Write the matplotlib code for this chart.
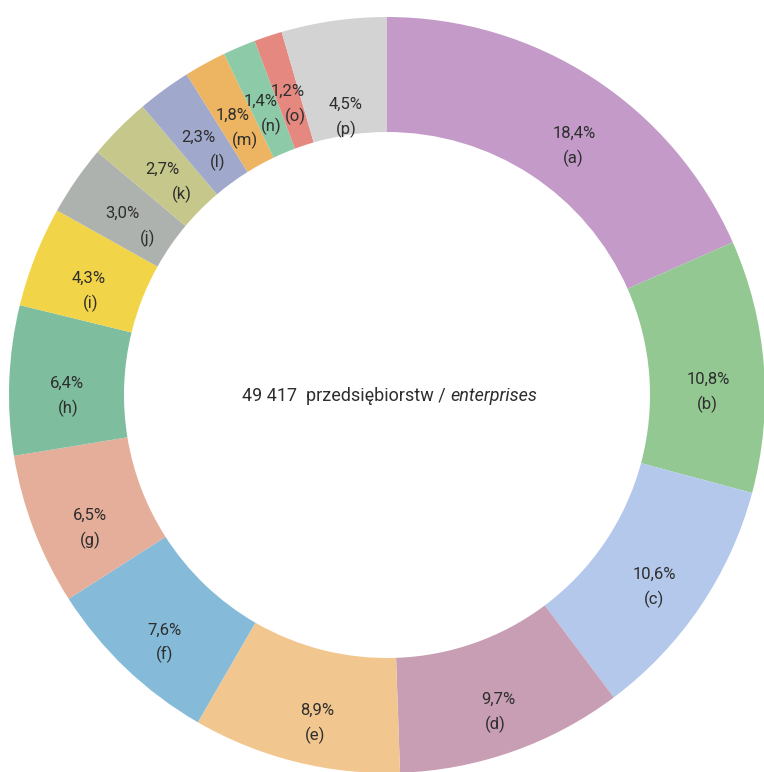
import matplotlib
matplotlib.use("Agg")
import matplotlib.pyplot as plt
import numpy as np

labels = ["a", "b", "c", "d", "e", "f", "g", "h", "i", "j", "k", "l", "m", "n", "o", "p"]
values = [18.4, 10.8, 10.6, 9.7, 8.9, 7.6, 6.5, 6.4, 4.3, 3.0, 2.7, 2.3, 1.8, 1.4, 1.2, 4.5]
colors = ["#C49BC8", "#93C893", "#B3C8EA", "#C79EB3", "#F2C78F", "#85BBD8", "#E5AE9A",
          "#7EBD9E", "#F2D448", "#AEB2AE", "#C6C78A", "#A0A8CC", "#EDB462", "#8DCBA8",
          "#E48880", "#D3D3D3"]
center_number = "49 417"
center_pl = "przedsiębiorstw"
center_en = "enterprises"

# label nudges in pixels (dx, dy screen-down) and horizontal shift of 2nd line
nudges = [(12, 6), (2, 8), (2, 0), (3, 2), (7, 4), (-1, 3), (2, 5), (0, 0), (0, 0),
          (11, 0), (12, 0), (10, 0), (6, 0), (4, 0), (5, 0), (4, 26)]
line2_shift = [-1, -1, -1, -3, -2, 0, 0, 1, 2, 25, 20, 19, 12, 11, 8, 0]

plt.rcParams['font.family'] = ['Roboto', 'DejaVu Sans']

fig = plt.figure(figsize=(7.64, 7.72), dpi=100)
R_PX = 378
ax = fig.add_axes([9/764, -1/772, 2 * R_PX / 764, 2 * R_PX / 772])

inner = 263 / R_PX
wedges, _ = ax.pie(values, colors=colors, startangle=90, counterclock=False,
                   radius=1.0, wedgeprops=dict(width=1 - inner, edgecolor='none'))
ax.set_xlim(-1, 1)
ax.set_ylim(-1, 1)
ax.set_aspect('equal')
ax.axis('off')

total = sum(values)
cum = 0
rl = 320 / R_PX
tc = '#2e2e2e'
for lab, v, (ndx, ndy), s2 in zip(labels, values, nudges, line2_shift):
    mid = 90 - (cum + v / 2) / total * 360
    cum += v
    th = np.deg2rad(mid)
    x, y = rl * np.cos(th), rl * np.sin(th)
    cx = ndx
    cy = -(13 + ndy)
    l1 = f"{v:.1f}".replace(".", ",") + "%"
    l2 = "(" + lab + ")"
    ax.annotate(l1, xy=(x, y), xytext=(cx - s2 / 2, cy + 12.5), textcoords='offset pixels',
                ha='center', va='center', fontsize=12, color=tc)
    ax.annotate(l2, xy=(x, y), xytext=(cx + s2 / 2, cy - 12.5), textcoords='offset pixels',
                ha='center', va='center', fontsize=12, color=tc)

fig.text(242/764, 1 - 396/772, f"{center_number}  {center_pl} / ", ha='left', va='center',
         fontsize=13, color=tc)
fig.canvas.draw()
r = fig.texts[0].get_window_extent()
fig.text(r.x1 / 764, 1 - 396/772, center_en, ha='left', va='center', fontsize=13,
         fontstyle='italic', color=tc)

fig.savefig("out.png", dpi=100)
